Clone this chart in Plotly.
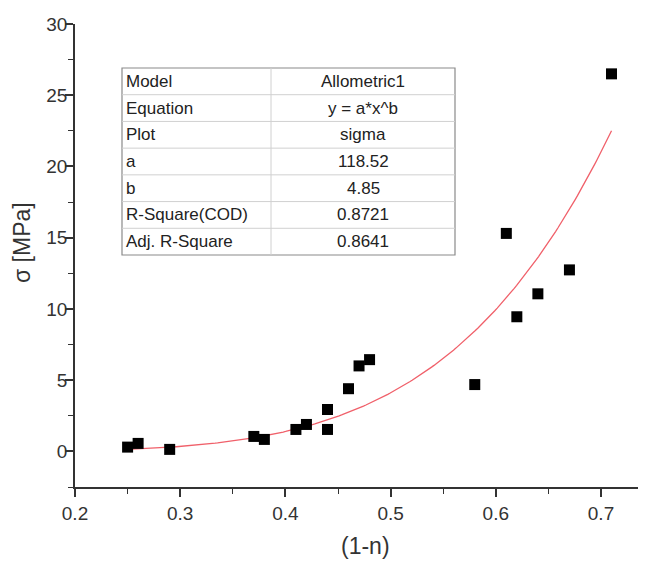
import numpy as np
import plotly.graph_objects as go

# Data points (1-n, sigma)
x_vals = [0.25, 0.26, 0.29, 0.37, 0.38, 0.41, 0.42, 0.44, 0.44, 0.46, 0.47, 0.48, 0.58, 0.61, 0.62, 0.64, 0.67, 0.71]
y_vals = [0.30, 0.56, 0.14, 1.05, 0.84, 1.54, 1.89, 2.94, 1.54, 4.40, 6.00, 6.44, 4.69, 15.30, 9.45, 11.06, 12.74, 26.50]

# Fit parameters (Allometric1: y = a*x^b)
fit_a = 118.52
fit_b = 4.85
fit_x_start = 0.25
fit_x_end = 0.71

table_labels = ["Model", "Equation", "Plot", "a", "b", "R-Square(COD)", "Adj. R-Square"]
table_values = ["Allometric1", "y = a*x^b", "sigma", "118.52", "4.85", "0.8721", "0.8641"]

x_ticks = [0.2, 0.3, 0.4, 0.5, 0.6, 0.7]
y_ticks = [0, 5, 10, 15, 20, 25, 30]

fit_x = np.linspace(fit_x_start, fit_x_end, 200)
fit_y = fit_a * fit_x ** fit_b

fig = go.Figure()
fig.add_trace(go.Scatter(x=fit_x, y=fit_y, mode="lines",
                         line=dict(color="#f0606a", width=1.3), showlegend=False, hoverinfo="skip"))
fig.add_trace(go.Scatter(x=x_vals, y=y_vals, mode="markers",
                         marker=dict(symbol="square", size=11, color="black"), showlegend=False))

OFF = 8  # page body margin
SW, SH = 646, 561
W, H = SW - OFF, SH - OFF
# plot area in screen pixels
PX0, PX1, PY0, PY1 = 75, 646, 24, 487
L, R, T, B = PX0 - OFF, SW - PX1, PY0 - OFF, SH - PY1
pw, ph = W - L - R, H - T - B

def px(xs):
    return (xs - PX0) / pw

def py(ys):
    return (PY1 - ys) / ph

# Table geometry in screen pixels
tx0, tx1, tcol = 122, 455, 271
ty0, ty1 = 68, 255
n = len(table_labels)
rh = (ty1 - ty0) / n
shapes = [dict(type="rect", xref="paper", yref="paper", x0=px(tx0), x1=px(tx1), y0=py(ty1), y1=py(ty0),
               line=dict(color="#8a8a8a", width=1.2), fillcolor="white", layer="above")]
shapes.append(dict(type="line", xref="paper", yref="paper", x0=px(tcol), x1=px(tcol), y0=py(ty1), y1=py(ty0),
                   line=dict(color="#d0d0d0", width=1), layer="above"))
for i in range(1, n):
    yy = ty0 + i * rh
    shapes.append(dict(type="line", xref="paper", yref="paper", x0=px(tx0), x1=px(tx1), y0=py(yy), y1=py(yy),
                       line=dict(color="#d0d0d0", width=1), layer="above"))

annotations = []
for i, (lab, val) in enumerate(zip(table_labels, table_values)):
    yc = ty0 + (i + 0.5) * rh
    annotations.append(dict(x=px(tx0 + 2), y=py(yc), xref="paper", yref="paper", text=lab, showarrow=False,
                            xanchor="left", yanchor="middle", font=dict(size=17, color="#222")))
    annotations.append(dict(x=px((tcol + tx1) / 2), y=py(yc), xref="paper", yref="paper", text=val, showarrow=False,
                            xanchor="center", yanchor="middle", font=dict(size=17, color="#222")))

# Axis titles placed as annotations for exact positioning
annotations.append(dict(x=px(365), y=py(546), xref="paper", yref="paper", text="(1-n)", showarrow=False,
                        xanchor="center", yanchor="middle", font=dict(size=23, color="#333")))
annotations.append(dict(x=px(22), y=py(243), xref="paper", yref="paper", text="σ [MPa]", showarrow=False,
                        textangle=-90, xanchor="center", yanchor="middle", font=dict(size=23, color="#333")))

fig.update_layout(
    width=W, height=H,
    margin=dict(l=L, r=R, t=T, b=B, pad=0, autoexpand=False),
    plot_bgcolor="white", paper_bgcolor="white",
    font=dict(family="Liberation Sans, Arial, sans-serif", color="#333"),
    shapes=shapes, annotations=annotations,
    xaxis=dict(range=[0.2, 0.2 + pw / 1052.0], tickvals=x_ticks, ticktext=[str(v) for v in x_ticks],
               ticks="outside", ticklen=8, tickwidth=1.5, tickcolor="#333", automargin=False,
               showline=True, linecolor="#333", linewidth=1.8, showgrid=False, zeroline=False,
               tickfont=dict(size=19, color="#333"),
               minor=dict(dtick=0.05, tick0=0.2, ticks="outside", ticklen=5, tickwidth=1.2, tickcolor="#333")),
    yaxis=dict(range=[-2.5, 30], tickvals=y_ticks, ticktext=[str(v) for v in y_ticks],
               ticks="outside", ticklen=8, tickwidth=1.5, tickcolor="#333", automargin=False,
               showline=True, linecolor="#333", linewidth=1.8, showgrid=False, zeroline=False,
               tickfont=dict(size=19, color="#333"), ticklabelstandoff=-6,
               minor=dict(dtick=2.5, tick0=0, ticks="outside", ticklen=5, tickwidth=1.2, tickcolor="#333")),
)

fig.write_html("out.html")
